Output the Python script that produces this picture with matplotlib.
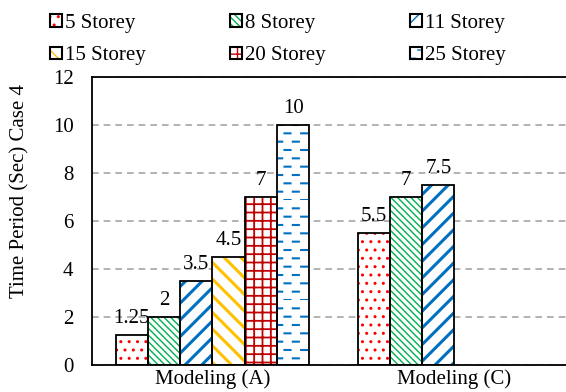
import numpy as np
import matplotlib
matplotlib.use("Agg")
import matplotlib.pyplot as plt
import matplotlib.hatch as mhatch
from matplotlib.patches import Patch
from matplotlib.legend_handler import HandlerTuple
from matplotlib.path import Path

# -- data --
categories = ["Modeling (A)", "Modeling (C)"]
storeys = ["5 Storey", "8 Storey", "11 Storey", "15 Storey", "20 Storey", "25 Storey"]
values_a = [1.25, 2, 3.5, 4.5, 7, 10]
values_c = [5.5, 7, 7.5, np.nan, np.nan, np.nan]

# -- styles --
hatch_colors = ["#FF0000", "#00B050", "#0070C0", "#FFC000", "#C00000", "#0070C0"]
hatches = ["..", "\\" * 5, "//", "\\\\", "++", "--"]
hatch_widths = [1.0, 1.0, 2.2, 2.2, 1.3, 1.5]
font_size = 15


# '-' is redrawn as staggered short dashes, '+' keeps its full horizontal lines
class PlusRows(mhatch.HorizontalHatch):
    def __init__(self, hatch, density):
        super().__init__(hatch.replace('-', ''), density)


class DashRows(mhatch.HatchPatternBase):
    def __init__(self, hatch, density):
        self.num_rows = int(hatch.count('-') * density)
        self.num_cols = 6
        self.dash = 0.06
        self.num_vertices = self.num_rows * self.num_cols * 2

    def set_vertices_and_codes(self, vertices, codes):
        k = 0
        for i in range(self.num_rows):
            y = i / self.num_rows
            shift = 0.5 * (i % 2)
            for j in range(self.num_cols):
                xc = (j + shift + 0.25) / self.num_cols
                vertices[k] = (xc - self.dash / 2, y)
                vertices[k + 1] = (xc + self.dash / 2, y)
                codes[k] = Path.MOVETO
                codes[k + 1] = Path.LINETO
                k += 2


mhatch._hatch_types = [PlusRows if t is mhatch.HorizontalHatch else t
                       for t in mhatch._hatch_types] + [DashRows]

plt.rcParams['font.family'] = ['Liberation Serif', 'DejaVu Serif']
plt.rcParams['font.size'] = font_size

fig = plt.figure(figsize=(5.66, 3.92), dpi=100)
ax = fig.add_axes([91.5 / 566, 27 / 392, 484 / 566, 288 / 392])

x = np.arange(len(categories))
n = len(storeys)
width = 1 / (n + 1.5)
data = np.array([values_a, values_c])

handles = []
for i in range(n):
    pos = x + (i - (n - 1) / 2) * width
    vals = data[:, i]
    with plt.rc_context({'hatch.linewidth': hatch_widths[i]}):
        ax.bar(pos, vals, width, color="white", edgecolor=hatch_colors[i],
               hatch=hatches[i], linewidth=0, zorder=2)
        fill = Patch(facecolor="white", edgecolor=hatch_colors[i],
                     hatch=hatches[i], linewidth=0)
    ax.bar(pos, vals, width, facecolor="none", edgecolor="black",
           linewidth=1.3, zorder=3)
    edge = Patch(facecolor="none", edgecolor="black", linewidth=1.5)
    handles.append((fill, edge))
    for xp, v in zip(pos, vals):
        if np.isnan(v):
            continue
        ax.annotate(f"{v:g}", (xp, v), xytext=(0, 5), textcoords="offset points",
                    ha="center", va="bottom", fontsize=font_size)

ax.set_xlim(-0.5, 1.5)
ax.set_ylim(0, 12)
ax.set_yticks(np.arange(0, 13, 2))
ax.set_xticks(x)
ax.set_xticklabels(categories)
ax.tick_params(axis="both", length=0)
ax.tick_params(axis="y", pad=13)
ax.tick_params(axis="x", pad=3)
ax.yaxis.grid(True, color="#A6A6A6", linestyle=(0, (4, 3)), linewidth=1.2)
ax.set_axisbelow(True)
for s in ax.spines.values():
    s.set_linewidth(1.3)

fig.text(20 / 566, 1 - 191 / 392, "Time Period (Sec) Case 4", rotation=90,
         ha="center", va="center", fontsize=font_size)

# legend fills column by column, so reorder to read across rows
order = [0, 3, 1, 4, 2, 5]
fig.legend([handles[k] for k in order], [storeys[k] for k in order],
           loc="upper left", bbox_to_anchor=(50 / 566, 1 - 14 / 392),
           ncol=3, frameon=False, handlelength=0.56, handleheight=0.56,
           handletextpad=0.15, columnspacing=4.06, labelspacing=0.64,
           borderpad=0, borderaxespad=0, fontsize=font_size,
           handler_map={tuple: HandlerTuple(ndivide=1, pad=0)})

fig.savefig("out.png", dpi=100)
